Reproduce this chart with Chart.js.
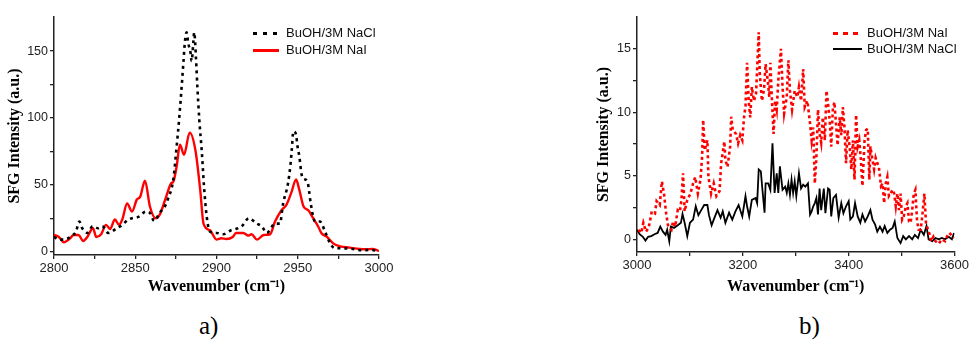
<!DOCTYPE html>
<html><head><meta charset="utf-8">
<script src="https://cdn.jsdelivr.net/npm/chart.js@4.4.1/dist/chart.umd.min.js"></script>
<style>
html,body{margin:0;padding:0;background:#fff;width:971px;height:343px;overflow:hidden;position:relative;}
.box{position:absolute;top:0;height:300px;}
#boxA{left:0;width:400px;}
#boxB{left:589px;width:382px;}
.row{position:absolute;white-space:nowrap;height:16px;line-height:16px;font:13px "Liberation Sans",Arial,sans-serif;color:#111;}
.sample{position:absolute;height:3px;}
.tag{position:absolute;font:25px "Liberation Serif","Times New Roman",serif;color:#000;line-height:28px;}
</style></head>
<body>
<div id="boxA" class="box"><canvas id="cA" width="400" height="300"></canvas></div>
<div id="boxB" class="box"><canvas id="cB" width="382" height="300"></canvas></div>

<div class="sample" style="left:253px;top:32px;width:26px;background:repeating-linear-gradient(to right,#000 0 4px,transparent 4px 10px);"></div>
<div class="row" style="left:286px;top:25px;">BuOH/3M NaCl</div>
<div class="sample" style="left:253px;top:49px;width:26px;background:#f00;"></div>
<div class="row" style="left:286px;top:42px;">BuOH/3M NaI</div>

<div class="sample" style="left:833px;top:32px;width:29px;background:repeating-linear-gradient(to right,#f00 0 5px,transparent 5px 10px);"></div>
<div class="row" style="left:867px;top:25px;">BuOH/3M NaI</div>
<div class="sample" style="left:833px;top:48px;width:29px;height:2px;background:#000;"></div>
<div class="row" style="left:867px;top:41px;">BuOH/3M NaCl</div>

<div class="tag" style="left:199px;top:312px;">a)</div>
<div class="tag" style="left:799px;top:312px;">b)</div>

<script>
// ---- Panel a) data ----
const aNaClX = [2800,2803,2806,2810,2813.5,2815.6,2817.4,2820.5,2823.8,2827.3,2829.7,2833.4,2838.6,2842,2845.7,2848,2851.9,2856.6,2859,2861.7,2865,2868.3,2870,2873.4,2875.5,2877,2878.6,2879.6,2880.6,2881.6,2882.6,2884,2884.7,2885.7,2886.3,2887.4,2888.2,2889.4,2891,2892.3,2894,2896,2900,2904,2909,2912,2915.5,2920,2924.7,2927.8,2931,2936,2939,2941,2944,2945.6,2946.3,2947.3,2949,2949.7,2951,2952.4,2954.5,2956,2957,2958,2960.6,2963.7,2966.8,2970,2973,2978,2984,2989,2994.5,3000];
const aNaClY = [11,9,9,11,15,22.5,17.5,14,19,17.5,19,14,17.5,20,24,25,26,30,29,23,29,34,39,54,79,99,124,141,157.5,164,156,149,142.5,156,164,144,124,99,74,49,26,15,14,13,16,17,19,25,21,19,14,21,21,36,51,66,76,90,87.5,80,71,57.5,54,52.5,45,36,22.5,22.5,15,6,2.5,2.5,2,1,1.3,0.5];
const aNaIX = [2800,2803,2806,2810,2812,2815,2818,2820.5,2824,2826,2829,2832,2834.5,2837.5,2840,2842,2845,2848,2851,2853,2856,2859,2862.5,2865,2869,2872,2873.5,2875.5,2877.5,2880,2883.5,2887,2890,2892,2896,2900,2903,2906,2910,2912,2916.5,2919.5,2921.5,2925,2929,2933,2936,2940,2943,2946,2949,2951,2953.5,2956.5,2959.5,2962.5,2964.5,2968,2972,2976,2982,2988,2992,2996,3000];
const aNaIY = [12.5,11,7,10,12.5,12.5,8,11,17.5,11,13,20,17,24,20,24,36,30,39,41,53,34,25,27.5,41,51,52.5,64,80,72.5,89,76,46,21,16,9,10,9.5,11,14,14,12,13,9,12.5,13,22.5,31,35,44,54,46,34,31,25,19,14,11,6,4,3,2,1.75,2,0.5];
const aXTicks = [2800,2825,2850,2875,2900,2925,2950,2975,3000];
const aXLabels = [2800,2850,2900,2950,3000];
const aYTicks = [0,25,50,75,100,125,150];
const aYLabels = [0,50,100,150];

// ---- Panel b) data ----
const bNaIX = [3003,3008,3012,3017,3022,3028,3034,3037,3043,3047,3051,3055,3059,3065,3068,3072,3077,3081,3084,3087,3090,3095,3101,3106,3110,3115,3120,3123,3125,3128,3133,3135,3140,3145,3150,3156,3159,3162,3165,3167,3171,3176,3178,3181,3187,3191,3195,3199,3202,3205,3208,3211,3214,3217,3221,3225,3230,3232,3236,3240,3243,3247,3250,3252,3255,3258,3261,3264,3267,3272,3275,3278,3283,3286,3289,3293,3298,3303,3306,3310,3314,3317,3322,3327,3330,3333,3336,3339,3342,3345,3348,3351,3355,3358,3361,3364,3367,3370,3373,3376,3379,3383,3386,3389,3392,3395,3398,3402,3405,3408,3411,3414,3417,3420,3423,3426,3430,3433,3436,3439,3441,3444,3448,3451,3454,3457,3461,3464,3467,3470,3473,3476,3479,3483,3486,3489,3492,3495,3498,3501,3504,3508,3511,3514,3517,3520,3523,3526,3529,3532,3536,3539,3543,3546,3548,3552,3556,3560,3564,3570,3576,3582,3586,3590,3595,3599];
const bNaIY = [0.75,0.5,1.3,0.6,0.9,2.2,2.05,3.0,2.7,4.55,3.6,2.05,1.0,0.75,1.4,1.0,2.3,2.2,3.1,5.2,2.2,3.1,3.6,4.4,4.9,3.6,4.7,6.5,9.4,7.0,7.8,4.9,3.6,4.4,3.4,3.8,6.0,6.8,7.7,6.25,5.7,7.3,9.65,8.6,8.3,7.55,8.2,7.8,9.5,10.5,13.9,10.9,9.6,12.0,10.9,11.5,16.3,13.0,10.9,11.8,13.8,12.5,11.2,13.9,10.9,8.3,10.9,10.2,12.5,15.0,12.0,9.9,11.2,14.1,11.7,10.2,11.7,11.2,12.0,10.9,13.4,10.4,10.9,9.1,7.8,8.8,4.4,6.5,10.2,8.3,7.6,9.6,7.8,11.7,10.7,9.4,7.3,10.2,10.8,9.1,7.4,9.6,8.2,10.4,8.8,6.0,8.6,7.2,5.5,7.8,4.7,9.8,7.3,7.8,6.25,4.2,7.8,8.6,8.7,4.7,7.3,6.5,5.5,6.4,6.0,5.7,4.2,4.4,2.85,4.4,4.9,3.4,3.6,3.9,3.6,2.6,3.6,2.3,3.6,1.55,1.8,2.6,2.85,1.4,1.3,2.3,3.6,3.9,1.55,0.75,0.75,1.8,3.6,1.3,1.0,0.5,-0.15,0.2,-0.15,-0.35,0,-0.15,0.25,0.5,0.3,0.1];
const bNaClX = [3000,3005,3011,3016,3021,3027,3033,3039,3044,3049,3054,3057,3061,3064,3070,3077,3083,3086,3090,3095,3100,3106,3111,3116,3120,3127,3133,3136,3141,3145,3152,3158,3162,3167,3174,3180,3186,3192,3199,3205,3208,3212,3217,3224,3227,3230,3234,3237,3241,3243,3248,3252,3256,3260,3264,3267,3270,3275,3280,3283,3286,3289,3292,3295,3298,3301,3306,3310,3314,3318,3323,3327,3330,3333,3336,3339,3342,3345,3348,3353,3356,3361,3364,3367,3371,3376,3381,3386,3390,3395,3400,3403,3408,3412,3417,3422,3426,3431,3436,3441,3445,3450,3454,3459,3464,3468,3473,3478,3483,3487,3492,3498,3503,3508,3514,3520,3525,3531,3536,3542,3547,3551,3558,3564,3570,3576,3582,3589,3595,3599];
const bNaClY = [0.75,0.4,0.2,-0.1,0.2,0.25,0.4,0.5,1.0,0.6,0.35,0.75,-0.15,1.0,0.9,1.1,1.3,2.0,1.3,0.25,1.3,1.55,2.6,1.9,2.2,2.7,2.7,1.9,1.1,1.55,2.3,1.7,2.2,1.3,2.1,1.55,2.2,2.7,1.8,3.4,2.6,1.8,3.1,3.25,2.85,5.5,5.35,3.9,2.1,4.4,4.4,3.9,7.55,3.65,5.2,3.65,5.75,3.9,4.15,3.65,4.4,3.5,4.7,3.65,4.55,3.4,5.2,4.0,4.3,4.15,4.4,1.95,2.2,2.6,2.85,3.25,1.95,4.0,2.3,4.0,2.05,4.0,3.9,1.8,3.25,3.5,1.7,2.85,2.05,2.6,3.0,1.55,1.8,2.85,1.8,1.3,1.95,1.4,1.8,2.3,1.55,1.15,0.6,1.0,0.6,1.05,0.5,0.75,0.9,1.4,0.1,-0.3,0.25,0,0.25,0,0.35,0.1,0.75,0.35,1.05,0,-0.15,0.1,0,0.1,0,0.2,0,0.5];
const bXTicks = [3000,3100,3200,3300,3400,3500,3600];
const bXLabels = [3000,3200,3400,3600];
const bYTicks = [0,2.5,5,7.5,10,12.5,15];
const bYLabels = [0,5,10,15];

const pts = (xs, ys) => xs.map((x, i) => ({x, y: ys[i]}));
const AX = '#222';

function axis(min, max, ticks, labels, title, isY, fit, fontSize) {
  return {
    type: 'linear', min, max,
    afterBuildTicks: s => { s.ticks = ticks.map(v => ({value: v})); },
    afterFit: s => { if (isY) s.width = fit; else s.height = fit; },
    grid: {display: true, drawOnChartArea: false, drawTicks: true, tickLength: 4, color: AX, lineWidth: 1.3},
    border: {display: true, color: AX, width: 1.5},
    ticks: {
      autoSkip: false, maxRotation: 0, padding: 2, color: '#222',
      font: {family: '"Liberation Sans", Arial, sans-serif', size: fontSize},
      callback: v => labels.includes(v) ? String(v) : ''
    },
    title: {display: true, text: title, color: '#000', padding: isY ? {top: 5, bottom: 2} : {top: 2, bottom: 4},
      font: {family: '"Liberation Serif", "Times New Roman", serif', weight: 'bold', size: 16}}
  };
}

const common = (pad) => ({
  responsive: false, animation: false, devicePixelRatio: 1,
  layout: {padding: pad},
  plugins: {legend: {display: false}, tooltip: {enabled: false}},
  elements: {point: {radius: 0}}
});

new Chart(document.getElementById('cA'), {
  type: 'line',
  data: {datasets: [
    {label: 'BuOH/3M NaCl', data: pts(aNaClX, aNaClY), borderColor: '#000', borderWidth: 2.6, borderDash: [3, 4], cubicInterpolationMode: 'monotone', fill: false},
    {label: 'BuOH/3M NaI', data: pts(aNaIX, aNaIY), borderColor: '#f00', borderWidth: 2.4, cubicInterpolationMode: 'monotone', fill: false}
  ]},
  options: Object.assign(common({left: 0, top: 17, right: 21, bottom: 0}), {
    scales: {
      x: axis(2800, 3000, aXTicks, aXLabels, 'Wavenumber (cm⁻¹)', false, 45, 13),
      y: axis(-2.5, 175.5, aYTicks, aYLabels, 'SFG Intensity (a.u.)', true, 54, 12.5)
    }
  })
});

new Chart(document.getElementById('cB'), {
  type: 'line',
  data: {datasets: [
    {label: 'BuOH/3M NaI', data: pts(bNaIX, bNaIY), borderColor: '#f00', borderWidth: 2.6, borderDash: [3, 3], tension: 0, fill: false},
    {label: 'BuOH/3M NaCl', data: pts(bNaClX, bNaClY), borderColor: '#000', borderWidth: 1.8, tension: 0, fill: false}
  ]},
  options: Object.assign(common({left: 0, top: 17, right: 13, bottom: 0}), {
    scales: {
      x: axis(3000, 3600, bXTicks, bXLabels, 'Wavenumber (cm⁻¹)', false, 48, 13),
      y: axis(-1, 17.5, bYTicks, bYLabels, 'SFG Intensity (a.u.)', true, 48, 12.5)
    }
  })
});
</script>
</body></html>
